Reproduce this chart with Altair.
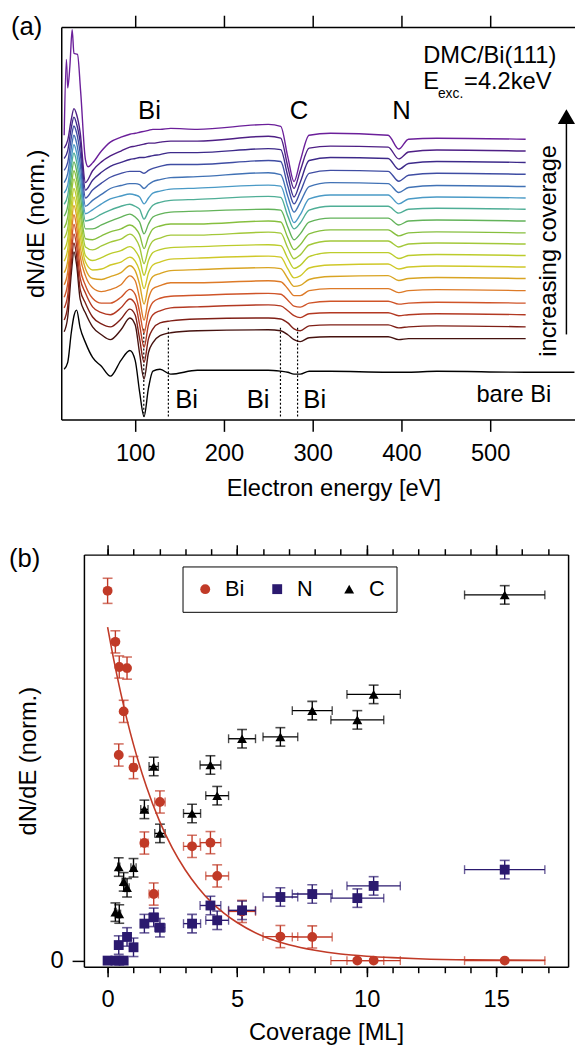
import altair as alt
import pandas as pd

FONT = "Liberation Sans"
RED = "#c13a27"
NAVY = "#2b1a6f"
BLACK = "#000000"

# ---------------- panel (a): Auger spectra (waterfall) ----------------
energy = [20, 24, 28, 31, 34, 38, 44, 52, 62, 72, 84, 94, 100, 105, 110, 115, 120, 128,
          140, 170, 250, 264, 272, 279, 286, 296, 320, 385, 397, 408, 440, 540]
top_energy = [20, 22.5, 24, 26.5, 29, 31, 35, 38.5, 44, 47, 52, 62, 72, 84, 94, 100, 105, 110,
              115, 120, 128, 140, 170, 250, 264, 272, 279, 286, 296, 320, 385, 397, 408, 440, 540]
bare_energy = energy + [595]

curve_names = ["0.30 ML", "0.43 ML", "0.45 ML", "0.62 ML", "0.75 ML", "1.00 ML", "1.42 ML",
               "1.78 ML", "2.02 ML", "3.26 ML", "3.97 ML", "4.23 ML", "5.19 ML", "6.67 ML",
               "7.90 ML", "9.64 ML", "10.27 ML", "15.33 ML"]
curve_colors = ["#45120f", "#7f1f16", "#b33922", "#cf5428", "#dd7a27", "#d9a423", "#cfc828",
                "#bccc2c", "#a3c83a", "#86bf3e", "#63b35a", "#4fae96", "#4a9ac6", "#4172b5",
                "#3f4da3", "#3d2a8a", "#4e1f85", "#6b1f9a"]
offsets = [82, 94, 106.3, 118, 130.7, 143, 154.7, 166.3, 178, 189.3, 201.3, 213.3,
           224.7, 236.3, 248.7, 260.7, 272.3, 284.3]
bare_offset = 48

s01 = [7, 22, 66, 88, 75, 40, 26, 12, 4, -1, 9, 21, 14, -15, -41, -14, -4, 3, 6, 8, 9, 8, 4, -1, -3, 1, 2, 2, -1, 0, 0, 0]
s02 = [7, 21, 64, 85, 72, 38, 24, 10, 3, 0, 8, 18, 12, -12, -36, -12, -2, 4, 6, 8, 9, 8, 4, -2, -4, 1, 2, 2, -1, 0, 1, 0]
s03 = [7, 20, 62, 82, 70, 37, 22, 8, 2, 0, 7, 16, 11, -10, -33, -10, 0, 4, 7, 8, 10, 9, 4, -1, -3, 1, 2, 2, -1, 0, 1, 0]
s04 = [6, 20, 60, 80, 68, 36, 18, 5, 0, 0, 6, 14, 9, -9, -30, -9, 1, 5, 7, 8, 10, 9, 3, -3, -4, 0, 2, 2, -1, 0, 1, 0]
s05 = [6, 19, 58, 77, 65, 35, 15, 3, -1, 1, 6, 15, 10, -8, -30, -8, 2, 5, 8, 8, 10, 9, 2, -5, -5, 0, 2, 2, -2, 0, 1, 0]
s06 = [6, 18, 55, 74, 63, 33, 10, 0, -1, 2, 6, 13, 8, -6, -26, -7, 2, 5, 8, 9, 11, 10, 0, -8, -7, -1, 2, 3, -2, 0, 1, 0]
s07 = [6, 18, 53, 71, 60, 32, 5, -3, -2, 2, 5, 10, 6, -4, -22, -6, 2, 5, 8, 9, 11, 10, -2, -11, -9, -1, 2, 3, -2, 0, 1, 0]
s08 = [6, 17, 51, 68, 58, 31, 0, -5, -2, 2, 5, 9, 5, -3, -20, -5, 3, 6, 8, 9, 11, 10, -3, -13, -10, -1, 3, 3, -3, 0, 1, 0]
s09 = [6, 16, 50, 66, 56, 30, -3, -6, -2, 2, 5, 10, 6, -3, -20, -5, 3, 6, 9, 9, 12, 11, -4, -15, -11, -1, 3, 3, -3, 0, 1, 0]
s10 = [5, 16, 47, 63, 54, 28, -6, -7, -3, 1, 4, 8, 5, -2, -16, -4, 4, 7, 9, 9, 12, 11, -5, -17, -12, -1, 3, 3, -3, 0, 1, 0]
s11 = [5, 15, 45, 60, 51, 27, -8, -8, -4, 0, 4, 7, 4, -1, -13, -3, 4, 7, 9, 10, 12, 11, -6, -19, -13, -1, 3, 3, -4, 0, 1, 0]
s12 = [5, 14, 43, 57, 48, 26, -12, -10, -5, -1, 3, 5, 3, 0, -10, -2, 4, 7, 9, 10, 13, 12, -7, -20, -14, -1, 3, 3, -4, 0, 1, 0]
s13 = [5, 13, 40, 54, 46, 24, -16, -12, -6, -1, 2, 4, 3, 1, -6, 0, 5, 7, 9, 10, 13, 12, -9, -25, -17, -1, 3, 3, -6, -1, 1, 0]
s14 = [4, 13, 39, 52, 44, 23, -20, -14, -8, -2, 1, 3, 3, 2, -2, 2, 5, 7, 9, 10, 14, 12, -10, -26, -16, 0, 4, 3, -6, -1, 1, 0]
s15 = [4, 12, 37, 49, 42, 22, -24, -16, -9, -3, 1, 3, 3, 3, 1, 4, 6, 8, 10, 10, 14, 13, -12, -30, -18, 1, 4, 3, -7, -1, 1, 0]
s16 = [4, 12, 35, 46, 39, 21, -28, -18, -10, -4, 0, 3, 4, 5, 5, 6, 7, 8, 10, 10, 14, 13, -14, -35, -20, 2, 5, 4, -7, -1, 1, 0]
s17 = [3, 11, 32, 43, 37, 19, -32, -20, -11, -5, 0, 4, 5, 6, 7, 8, 8, 9, 10, 10, 15, 13, -16, -38, -20, 3, 5, 4, -8, -1, 1, 0]
s18 = [4, 81, 52, 75, 111, 87, 86, 49, -21, -28, -24, -12, -3, 2, 5, 6, 7, 8, 9, 10, 10, 11, 10, 15, 13, -18, -43, -22, 4, 6, 4, -10, 0, 1, 0]
bare = [3, 10, 40, 57, 63, 45, 30, 15, 6, -4, 12, 22, 12, -20, -45, -16, 1, 3, -2, 2, 2, 1, 0, -2, -2, 1, 1, 0, 0, 0, 1, 0, 0]
spectra = [s01, s02, s03, s04, s05, s06, s07, s08, s09, s10, s11, s12, s13, s14, s15, s16, s17, s18]
grids = [energy] * 17 + [top_energy]

bi_line_energy = [109.7, 137.4, 263.7, 283.0]
bi_line_top = [92, 93, 93, 93]
bi_line_bottom = [3, 3, 3, 3]

# ---------------- panel (b): signal vs coverage ----------------
coverage = [0.0, 0.30, 0.43, 0.45, 0.62, 0.75, 1.00, 1.42, 1.78, 2.02, 3.26, 3.97, 4.23, 5.19,
            6.67, 7.90, 9.64, 10.27, 15.33]
coverage_err = [0, 0.03, 0.04, 0.05, 0.06, 0.08, 0.10, 0.14, 0.18, 0.20, 0.33, 0.40, 0.44, 0.52,
                0.67, 0.77, 1.02, 1.03, 1.55]
bi_signal = [1.0, 0.862, 0.556, 0.794, 0.674, 0.791, 0.522, 0.318, 0.180, 0.429, 0.309, 0.319,
             0.229, 0.133, 0.065, 0.064, 0.0, 0.0, 0.0]
bi_err = [0.034, 0.03, 0.03, 0.03, 0.03, 0.03, 0.03, 0.03, 0.03, 0.03, 0.03, 0.03, 0.03, 0.03,
          0.03, 0.03, 0, 0, 0]
n_signal = [0.0, 0.0, 0.042, 0.0, 0.0, 0.064, 0.036, 0.100, 0.117, 0.089, 0.100, 0.149, 0.109,
            0.136, 0.172, 0.180, 0.169, 0.202, 0.246]
n_err = [0, 0, 0.025, 0, 0, 0.025, 0.025, 0.025, 0.025, 0.025, 0.025, 0.025, 0.025, 0.025,
         0.025, 0.025, 0.025, 0.025, 0.025]
c_signal = [None, 0.131, 0.253, 0.126, 0.213, 0.197, 0.251, 0.409, 0.525, 0.344, 0.398, 0.529,
            0.446, 0.600, 0.605, 0.676, 0.651, 0.720, 0.989]
c_err = [0, 0.025, 0.025, 0.025, 0.025, 0.025, 0.025, 0.025, 0.025, 0.025, 0.025, 0.025, 0.025,
         0.025, 0.025, 0.025, 0.025, 0.025, 0.025]
fit_cov = [0, 0.25, 0.5, 0.75, 1, 1.5, 2, 2.5, 3, 3.5, 4, 4.5, 5, 6, 7, 8, 9, 10, 11, 12, 14, 16.9]
fit_signal = [0.902, 0.809, 0.726, 0.651, 0.584, 0.470, 0.378, 0.304, 0.245, 0.197, 0.158, 0.128,
              0.103, 0.066, 0.043, 0.028, 0.018, 0.012, 0.008, 0.005, 0.002, 0.001]
elements = ["Bi", "N", "C"]
element_colors = [RED, NAVY, BLACK]
element_shapes = ["circle", "square", "triangle-up"]

# ---------------- build tables ----------------
rows = []
for name, off, rel, grid in zip(curve_names, offsets, spectra, grids):
    for e, r in zip(grid, rel):
        rows.append({"curve": name, "E": e, "I": off + r})
for e, r in zip(bare_energy, bare):
    rows.append({"curve": "bare Bi", "E": e, "I": bare_offset + r})
dfA = pd.DataFrame(rows)
dfLines = pd.DataFrame({"E": bi_line_energy, "top": bi_line_top, "bot": bi_line_bottom})

brows = []
for el, sig, err in (("Bi", bi_signal, bi_err), ("N", n_signal, n_err), ("C", c_signal, c_err)):
    for x, dx, y, dy in zip(coverage, coverage_err, sig, err):
        if y is None:
            continue
        brows.append(dict(element=el, cov=x, xlo=x - dx, xhi=x + dx, val=y,
                          ylo=y - dy, yhi=y + dy, dx=dx, dy=dy))
dfB = pd.DataFrame(brows)
dfFit = pd.DataFrame({"cov": fit_cov, "val": fit_signal})
ONE = pd.DataFrame({"k": [0]})

ax_style = dict(domainColor="black", domainWidth=1.5, tickColor="black", tickWidth=1.5,
                labelFont=FONT, titleFont=FONT, labelColor="black", titleColor="black",
                grid=False, labelFlush=False, titleFontWeight="normal")


def txt(s, x, y, size=24, align="left", baseline="alphabetic", angle=0):
    return alt.Chart(ONE).mark_text(text=s, font=FONT, fontSize=size, align=align,
                                    baseline=baseline, angle=angle, color="black").encode(
        x=alt.value(x), y=alt.value(y))


# ---------------- panel (a) ----------------
xA = alt.Scale(domain=[16.7, 595.6], nice=False, zero=False)
yA = alt.Scale(domain=[0, 398], nice=False, zero=False)

a_axis1 = alt.Chart(dfA).mark_point(opacity=0).encode(
    x=alt.X("E:Q", scale=xA, axis=alt.Axis(orient="bottom", values=[100, 200, 300, 400, 500],
            tickSize=12, labelFontSize=24, labelPadding=11, title="Electron energy [eV]",
            titleFontSize=24, titlePadding=11, titleX=276, format="d", **ax_style)),
    y=alt.Y("I:Q", scale=yA, axis=alt.Axis(orient="left", labels=False, ticks=False,
            title="dN/dE (norm.)", titleFontSize=24, titlePadding=13, minExtent=0, **ax_style)),
)
a_axis2 = alt.Chart(dfA).mark_point(opacity=0).encode(
    x=alt.X("E:Q", scale=xA, axis=alt.Axis(orient="top", values=[100, 200, 300, 400, 500],
            tickSize=12, labels=False, title=None, **ax_style)),
    y=alt.Y("I:Q", scale=yA, axis=None),
)
spectra_lines = alt.Chart(dfA).mark_line(strokeWidth=1.4, interpolate="monotone").encode(
    x=alt.X("E:Q", scale=xA, axis=None),
    y=alt.Y("I:Q", scale=yA, axis=None),
    color=alt.Color("curve:N", scale=alt.Scale(domain=curve_names + ["bare Bi"],
                    range=curve_colors + [BLACK]), legend=None),
)
dotted = alt.Chart(dfLines).mark_rule(color="black", strokeWidth=1.2, strokeDash=[2, 2]).encode(
    x=alt.X("E:Q", scale=xA, axis=None),
    y=alt.Y("top:Q", scale=yA, axis=None),
    y2="bot:Q",
)
arrow_line = alt.Chart(ONE).mark_rule(color="black", strokeWidth=1.5).encode(
    x=alt.value(512.3), y=alt.value(98), y2=alt.value(311.7))
arrow_head = alt.Chart(ONE).mark_point(shape="M -1 0.86 L 0 -0.86 L 1 0.86 Z", filled=True,
                                       size=303, color="black", opacity=1, strokeWidth=0).encode(
    x=alt.value(512.3), y=alt.value(90.7))

panelA = alt.layer(
    a_axis1, a_axis2, dotted, spectra_lines,
    txt("(a)", -51, 8, size=26),
    txt("Bi", 151.5 - 62, 93, size=26, align="center"),
    txt("C", 303 - 62, 93, size=26, align="center"),
    txt("N", 407 - 62, 93, size=26, align="center"),
    txt("DMC/Bi(111)", 367, 36.5),
    txt("E", 367, 63.3),
    txt("exc.", 382, 72, size=14),
    txt("=4.2keV", 408.5, 63.3),
    txt("increasing coverage", 494.7, 227, angle=270, align="center", baseline="middle"),
    arrow_line, arrow_head,
    txt("bare Bi", 421, 380.7),
    txt("Bi", 115.5, 386.7, size=26),
    txt("Bi", 188, 386.7, size=26),
    txt("Bi", 245.5, 386.7, size=26),
).resolve_axis(x="independent", y="independent").properties(width=521, height=398)

# ---------------- panel (b) ----------------
xB = alt.Scale(domain=[-0.914, 17.777], range=[23, 514], nice=False, zero=False)
yB = alt.Scale(domain=[-0.0168, 1.0979], nice=False, zero=False)

b_axis1 = alt.Chart(dfB).mark_point(opacity=0).encode(
    x=alt.X("cov:Q", scale=xB, axis=alt.Axis(orient="bottom", values=[0, 5, 10, 15], tickSize=10,
            labelFontSize=24, labelPadding=11, title="Coverage [ML]", titleFontSize=24,
            titlePadding=10, format="d", **ax_style)),
    y=alt.Y("val:Q", scale=yB, axis=alt.Axis(orient="left", offset=-23, values=[0], tickSize=12,
            labelFontSize=24, labelPadding=9, format="d", title="dN/dE (norm.)",
            titleFontSize=24, titlePadding=10, minExtent=0, **ax_style)),
)
b_axis2 = alt.Chart(dfB).mark_point(opacity=0).encode(
    x=alt.X("cov:Q", scale=xB, axis=alt.Axis(orient="top", values=[0, 5, 10, 15], tickSize=10,
            labels=False, title=None, **ax_style)),
    y=alt.Y("val:Q", scale=yB, axis=alt.Axis(orient="right", labels=False, ticks=False,
            title=None, **ax_style)),
)
minor_vals = list(range(0, 18))
b_axis3 = alt.Chart(dfB).mark_point(opacity=0).encode(
    x=alt.X("cov:Q", scale=xB, axis=alt.Axis(orient="bottom", values=minor_vals, tickSize=6,
            labels=False, domain=False, title=None, **ax_style)),
    y=alt.Y("val:Q", scale=yB, axis=None),
)
b_axis4 = alt.Chart(dfB).mark_point(opacity=0).encode(
    x=alt.X("cov:Q", scale=xB, axis=alt.Axis(orient="top", values=minor_vals, tickSize=6,
            labels=False, domain=False, title=None, **ax_style)),
    y=alt.Y("val:Q", scale=yB, axis=None),
)

err_layers = []
for el, col in zip(elements, element_colors):
    sub = dfB[dfB["element"] == el]
    sx = sub[sub["dx"] > 0]
    sy = sub[sub["dy"] > 0]
    base_x = alt.Chart(sx)
    base_y = alt.Chart(sy)
    err_layers += [
        base_x.mark_rule(color=col, strokeWidth=1.4).encode(
            x=alt.X("xlo:Q", scale=xB, axis=None), x2="xhi:Q",
            y=alt.Y("val:Q", scale=yB, axis=None)),
        base_x.mark_tick(orient="vertical", size=9, thickness=1.4, color=col).encode(
            x=alt.X("xlo:Q", scale=xB, axis=None), y=alt.Y("val:Q", scale=yB, axis=None)),
        base_x.mark_tick(orient="vertical", size=9, thickness=1.4, color=col).encode(
            x=alt.X("xhi:Q", scale=xB, axis=None), y=alt.Y("val:Q", scale=yB, axis=None)),
        base_y.mark_rule(color=col, strokeWidth=1.4).encode(
            x=alt.X("cov:Q", scale=xB, axis=None),
            y=alt.Y("ylo:Q", scale=yB, axis=None), y2="yhi:Q"),
        base_y.mark_tick(orient="horizontal", size=10, thickness=1.6, color=col).encode(
            x=alt.X("cov:Q", scale=xB, axis=None), y=alt.Y("ylo:Q", scale=yB, axis=None)),
        base_y.mark_tick(orient="horizontal", size=10, thickness=1.6, color=col).encode(
            x=alt.X("cov:Q", scale=xB, axis=None), y=alt.Y("yhi:Q", scale=yB, axis=None)),
    ]

fit_line = alt.Chart(dfFit).mark_line(color=RED, strokeWidth=1.6, interpolate="monotone").encode(
    x=alt.X("cov:Q", scale=xB, axis=None), y=alt.Y("val:Q", scale=yB, axis=None))

leg = alt.Legend(title=None, orient="none", legendX=123, legendY=12, direction="horizontal",
                 columns=3, gridAlign="all", columnPadding=22, padding=12, strokeColor="black",
                 labelFontSize=22, labelFont=FONT, labelColor="black", symbolSize=95,
                 symbolStrokeWidth=0, labelOffset=9)
points = alt.Chart(dfB).mark_point(filled=True, opacity=1, strokeWidth=0).encode(
    x=alt.X("cov:Q", scale=xB, axis=None),
    y=alt.Y("val:Q", scale=yB, axis=None),
    color=alt.Color("element:N", scale=alt.Scale(domain=elements, range=element_colors), legend=leg),
    shape=alt.Shape("element:N", scale=alt.Scale(domain=elements, range=element_shapes), legend=leg),
    size=alt.Size("element:N", scale=alt.Scale(domain=elements, range=[100, 100, 125]), legend=None),
    order=alt.Order("ord:Q"),
).transform_calculate(ord="datum.element == 'Bi' ? 0 : datum.element == 'N' ? 1 : 2")

panelB = alt.layer(
    b_axis1, b_axis2, b_axis3, b_axis4, *err_layers, fit_line, points,
    txt("(b)", -53, 13, size=26),
).resolve_axis(x="independent", y="independent").properties(width=514, height=418)

chart = alt.vconcat(panelA, panelB, spacing=137, bounds="flush").resolve_scale(
    color="independent", shape="independent", size="independent"
).properties(
    autosize=alt.AutoSizeParams(type="none"),
    padding={"left": 54, "top": 12, "right": 521, "bottom": 1029},
    background="white",
).configure_view(stroke=None)

chart.save("out.html", embed_options={"renderer": "svg", "actions": False})
